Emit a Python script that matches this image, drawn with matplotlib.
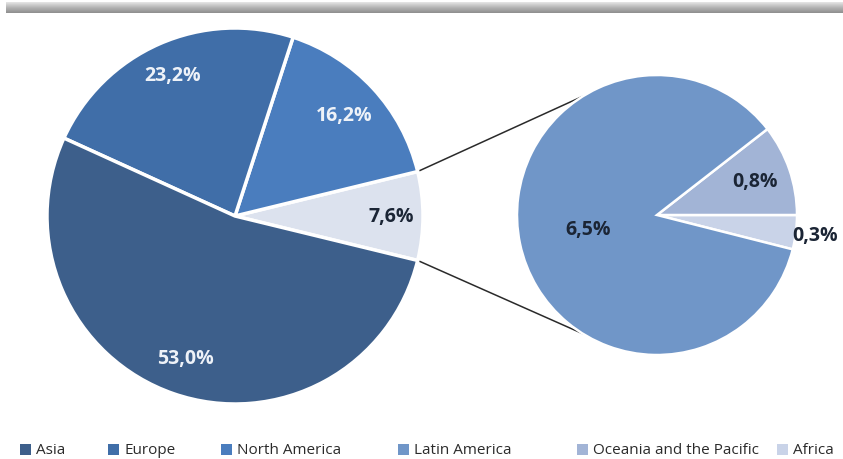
import numpy as np
import matplotlib
matplotlib.use("Agg")
import matplotlib.pyplot as plt
from matplotlib.patches import Rectangle
from matplotlib.colors import LinearSegmentedColormap

# Share of world total by region (%)
main_labels = ["Other", "North America", "Europe", "Asia"]
main_values = [7.6, 16.2, 23.2, 53.0]
main_colors = ["#dce2ee", "#4a7dbe", "#406ea8", "#3d5f8b"]

# Breakdown of the "Other" slice (%)
sub_labels = ["Africa", "Oceania and the Pacific", "Latin America"]
sub_values = [0.3, 0.8, 6.5]
sub_colors = ["#c9d3e8", "#a2b4d6", "#7096c8"]

legend_labels = ["Asia", "Europe", "North America", "Latin America",
                 "Oceania and the Pacific", "Africa"]
legend_colors = ["#3d5f8b", "#406ea8", "#4a7dbe", "#7096c8", "#a2b4d6", "#c9d3e8"]


def pct(v):
    return f"{v:.1f}%".replace(".", ",")


W, H = 843, 460
fig = plt.figure(figsize=(W / 100, H / 100), dpi=100)
ax = fig.add_axes([0, 0, 1, 1])

# layout (pixel units, y upwards)
c1, r1 = (235, 243), 188
c2, r2 = (657, 244), 140

start1 = -360 * main_values[0] / sum(main_values) / 2
w1, _ = ax.pie(main_values, colors=main_colors, center=c1, radius=r1,
               startangle=start1, counterclock=True,
               wedgeprops=dict(edgecolor="white", linewidth=2.5))

start2 = -360 * sub_values[0] / sum(sub_values)
w2, _ = ax.pie(sub_values, colors=sub_colors, center=c2, radius=r2,
               startangle=start2, counterclock=True,
               wedgeprops=dict(edgecolor="white", linewidth=1.8))

ax.set_xlim(0, W)
ax.set_ylim(0, H)
ax.set_aspect("auto")
ax.axis("off")

lab_font = dict(family=["Open Sans", "DejaVu Sans"], fontweight="bold", fontsize=14)

# data labels on the main pie
main_dist = [0.83, 0.79, 0.82, 0.80]
main_tcol = ["#1b2535", "#eef2f8", "#eef2f8", "#eef2f8"]
for w, v, d, tc in zip(w1, main_values, main_dist, main_tcol):
    a = np.deg2rad((w.theta1 + w.theta2) / 2)
    ax.text(c1[0] + d * r1 * np.cos(a), c1[1] + d * r1 * np.sin(a), pct(v),
            ha="center", va="center", color=tc, **lab_font)

# data labels on the secondary pie
sub_dist = [1.14, 0.74, 0.5]
for w, v, d in zip(w2, sub_values, sub_dist):
    a = np.deg2rad((w.theta1 + w.theta2) / 2)
    ax.text(c2[0] + d * r2 * np.cos(a), c2[1] + d * r2 * np.sin(a), pct(v),
            ha="center", va="center", color="#1b2535", **lab_font)

# connector lines from the "Other" slice to the breakdown pie
other = w1[0]
for t_main, t_sub in [(other.theta2, 122), (other.theta1, 238)]:
    a1, a2 = np.deg2rad(t_main), np.deg2rad(t_sub)
    ax.plot([c1[0] + r1 * np.cos(a1), c2[0] + r2 * np.cos(a2)],
            [c1[1] + r1 * np.sin(a1), c2[1] + r2 * np.sin(a2)],
            color="#2a2a2a", linewidth=1.1, zorder=0)

# shaded strip along the top edge (light on top, darker at its lower edge)
strip = LinearSegmentedColormap.from_list("strip", ["#8e8e8e", "#b4b4b4", "#e6e6e6"])
grad = np.linspace(0, 1, 64).reshape(-1, 1)
ax.imshow(grad, extent=[6, W, 446, 457], cmap=strip,
          aspect="auto", origin="lower", zorder=-1)

# legend row
leg_x = [20, 108, 221, 398, 577, 777]
for x, lab, col in zip(leg_x, legend_labels, legend_colors):
    ax.add_patch(Rectangle((x, 4), 11, 11, facecolor=col, edgecolor="none"))
    ax.text(x + 16, 9.5, lab, ha="left", va="center", color="#2b2b2b",
            family=["Open Sans", "DejaVu Sans"], fontsize=11)

fig.savefig("out.png", dpi=100)
